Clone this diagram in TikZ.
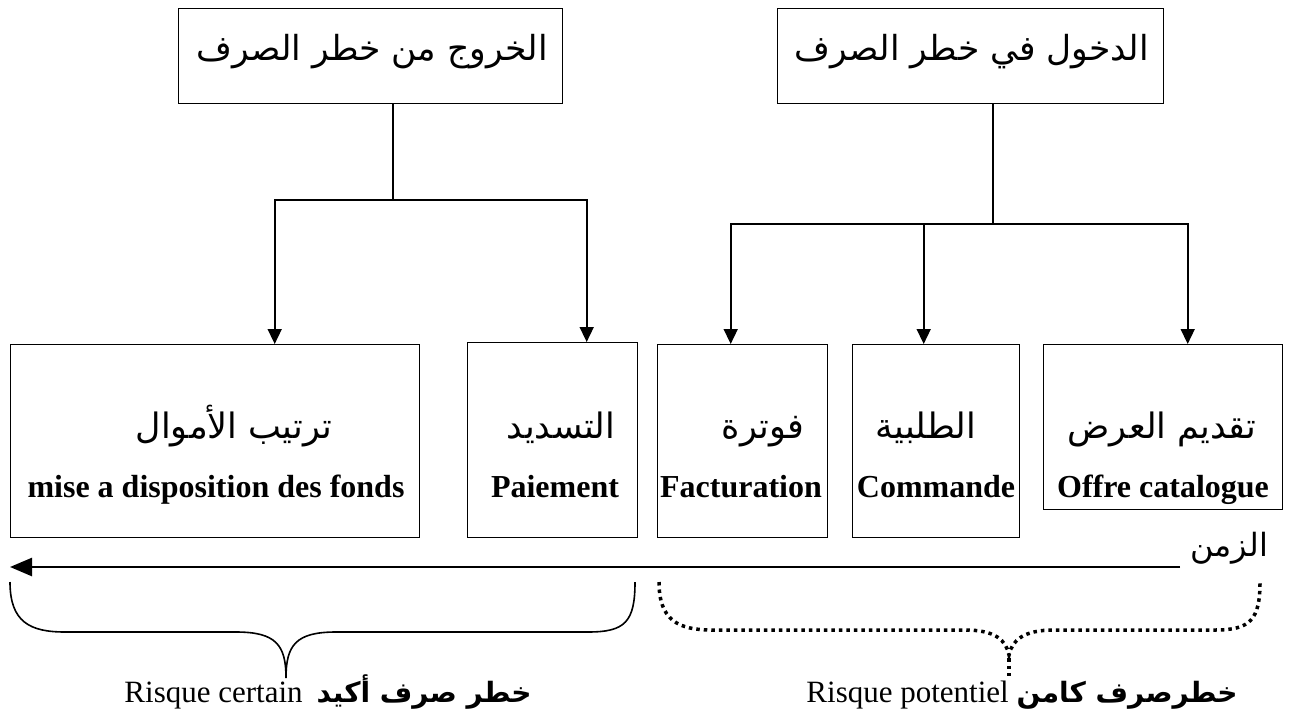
\documentclass[tikz,border=0pt]{standalone}
\usepackage{fontspec}
\setmainfont{Liberation Serif}
\newfontfamily\arabicfont[Script=Arabic]{DejaVu Sans}
\TeXXeTstate=1
\usetikzlibrary{arrows.meta}
\begin{document}
\begin{tikzpicture}[x=1pt,y=-1pt,
  box/.style={draw, line width=1.4pt, inner sep=0pt, anchor=north west},
  conn/.style={line width=1.6pt},
  arr/.style={conn, -{Triangle[length=15pt,width=14pt]}},
  ar/.style={font=\arabicfont\fontsize{35}{40}\selectfont, inner sep=0pt, anchor=base},
  arh/.style={font=\arabicfont\fontsize{34.5}{40}\selectfont, inner sep=0pt, anchor=base},
  lat/.style={font=\fontsize{32}{38}\selectfont\bfseries, inner sep=0pt, anchor=base},
  lab/.style={font=\fontsize{31}{36}\selectfont, inner sep=0pt, anchor=base},
  brace/.style={line width=1.6pt},
  dotbrace/.style={line width=3.5pt, dash pattern=on 3.5pt off 4pt},
]
\useasboundingbox (0,0) rectangle (1289,720);

% top boxes
\node[box, minimum width=384pt, minimum height=95pt] (exitbox) at (178,8) {};
\node[box, minimum width=386pt, minimum height=95pt] (entrybox) at (777,8) {};
\node[arh] (exitT) at (372,60) {\beginR الخروج من خطر الصرف\endR};
\node[arh] (entryT) at (972,60) {\beginR الدخول في خطر الصرف\endR};

% lower boxes
\node[box, minimum width=409pt, minimum height=193pt] (mise) at (10,344) {};
\node[box, minimum width=170pt, minimum height=195pt] (pay) at (467,342) {};
\node[box, minimum width=170pt, minimum height=193pt] (fact) at (657,344) {};
\node[box, minimum width=167pt, minimum height=193pt] (comm) at (852,344) {};
\node[box, minimum width=239pt, minimum height=165pt] (offre) at (1043,344) {};

\node[ar] (miseA) at (234,438) {\beginR ترتيب الأموال\endR};
\node[lat] (miseL) at (216,497) {mise a disposition des fonds};
\node[ar] (payA) at (561,438) {\beginR التسديد\endR};
\node[lat] (payL) at (555,497) {Paiement};
\node[ar] (factA) at (763,438) {\beginR فوترة\endR};
\node[lat] (factL) at (741,497) {Facturation};
\node[ar] (commA) at (926,438) {\beginR الطلبية\endR};
\node[lat] (commL) at (936,497) {Commande};
\node[ar] (offreA) at (1162,438) {\beginR تقديم العرض\endR};
\node[lat] (offreL) at (1163,497) {Offre catalogue};

% connectors left
\coordinate (jl) at (393,200);
\draw[conn] (jl |- exitbox.south) -- (jl);
\draw[arr] (jl) -| ([xshift=59.5pt]mise.north);
\draw[arr] (jl) -| ([xshift=34pt]pay.north);

% connectors right
\coordinate (jr) at (993,224);
\draw[conn] (jr |- entrybox.south) -- (jr);
\draw[arr] (jr) -| ([xshift=-12pt]fact.north);
\draw[arr] (jr) -| ([xshift=-12.5pt]comm.north);
\draw[arr] (jr) -| ([xshift=24.5pt]offre.north);

% time axis
\coordinate (tR) at (1180,567);
\coordinate (tL) at (10,567);
\draw[line width=2.6pt, -{Triangle[length=22pt,width=18pt]}] (tR) -- (tL);
\node[ar, font=\arabicfont\fontsize{32}{38}\selectfont] (zaman) at (1229,556) {\beginR الزمن\endR};

% solid brace
\draw[brace] (10,582) .. controls (10,622) and (30,632) .. (65,632)
  -- (236,632) .. controls (276,632) and (286,645) .. (286,678)
  .. controls (286,645) and (296,632) .. (336,632)
  -- (588,632) .. controls (625,632) and (635,622) .. (635,582);

% dotted brace
\draw[dotbrace] (659,582) .. controls (659,620) and (678,630) .. (712,630)
  -- (965,630) .. controls (995,630) and (1006,640) .. (1009,655)
  .. controls (1012,640) and (1024,630) .. (1054,630)
  -- (1215,630) .. controls (1250,630) and (1260,620) .. (1260,582);
\draw[dotbrace] (1009,658) -- (1009,676);

% labels
\node[lab] (certain) at (328,702) {Risque certain\hspace{14pt}{\arabicfont\bfseries\fontsize{28}{34}\selectfont\beginR خطر صرف أكيد\endR}};
\node[lab] (potentiel) at (1022,702) {Risque potentiel {\arabicfont\bfseries\fontsize{28}{34}\selectfont\beginR خطرصرف كامن\endR}};
\end{tikzpicture}
\end{document}
